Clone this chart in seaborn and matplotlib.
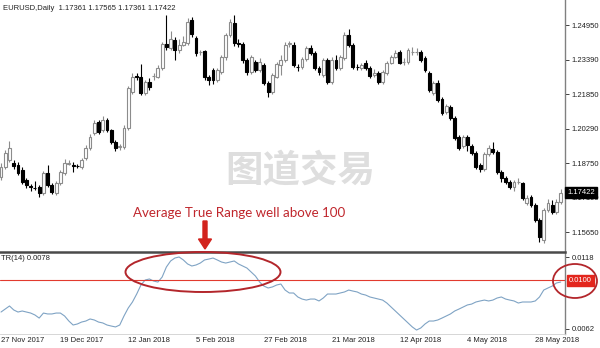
import numpy as np
import pandas as pd
import matplotlib
matplotlib.use("Agg")
import matplotlib.pyplot as plt
import seaborn as sns
from matplotlib.patches import Ellipse, FancyArrow
from matplotlib.transforms import IdentityTransform, blended_transform_factory

# ---------------- data (EURUSD daily) ----------------
open_ = [1.1812, 1.1857, 1.1889, 1.1875, 1.1866, 1.1844, 1.1799, 1.1770, 1.1765, 1.1767,
         1.1741, 1.1830, 1.1776, 1.1741, 1.1785, 1.1830, 1.1873, 1.1868, 1.1864, 1.1857,
         1.1898, 1.1943, 1.2010, 1.2059, 1.2024, 1.2068, 1.2024, 1.1970, 1.1946, 1.1948,
         1.2033, 1.2194, 1.2264, 1.2262, 1.2190, 1.2239, 1.2264, 1.2262, 1.2302, 1.2410,
         1.2392, 1.2428, 1.2383, 1.2405, 1.2414, 1.2518, 1.2437, 1.2372, 1.2378, 1.2262,
         1.2293, 1.2248, 1.2284, 1.2351, 1.2450, 1.2504, 1.2412, 1.2410, 1.2338, 1.2284,
         1.2329, 1.2293, 1.2315, 1.2235, 1.2194, 1.2262, 1.2315, 1.2338, 1.2408, 1.2405,
         1.2308, 1.2306, 1.2342, 1.2392, 1.2369, 1.2302, 1.2271, 1.2338, 1.2239, 1.2338,
         1.2302, 1.2347, 1.2450, 1.2405, 1.2308, 1.2302, 1.2324, 1.2302, 1.2271, 1.2280,
         1.2239, 1.2280, 1.2324, 1.2351, 1.2374, 1.2327, 1.2329, 1.2372, 1.2374, 1.2374,
         1.2347, 1.2280, 1.2190, 1.2235, 1.2163, 1.2104, 1.2127, 1.2077, 1.1992, 1.1952,
         1.1992, 1.1952, 1.1921, 1.1866, 1.1848, 1.1916, 1.1938, 1.1925, 1.1835, 1.1808,
         1.1790, 1.1767, 1.1788, 1.1785, 1.1696, 1.1723, 1.1687, 1.1620, 1.1530, 1.1665,
         1.1687, 1.1656, 1.1700]
high = [1.1875, 1.1935, 1.1975, 1.1890, 1.1880, 1.1858, 1.1810, 1.1780, 1.1795, 1.1775,
        1.1840, 1.1866, 1.1785, 1.1795, 1.1845, 1.1895, 1.1888, 1.1878, 1.1870, 1.1900,
        1.1955, 1.2005, 1.2068, 1.2070, 1.2085, 1.2078, 1.2030, 1.1978, 1.1960, 1.2045,
        1.2220, 1.2280, 1.2280, 1.2320, 1.2250, 1.2255, 1.2280, 1.2315, 1.2418, 1.2540,
        1.2468, 1.2440, 1.2430, 1.2445, 1.2525, 1.2530, 1.2445, 1.2385, 1.2385, 1.2270,
        1.2300, 1.2300, 1.2360, 1.2460, 1.2520, 1.2540, 1.2430, 1.2418, 1.2345, 1.2360,
        1.2338, 1.2345, 1.2325, 1.2245, 1.2280, 1.2328, 1.2360, 1.2418, 1.2425, 1.2420,
        1.2318, 1.2350, 1.2400, 1.2405, 1.2378, 1.2310, 1.2345, 1.2345, 1.2350, 1.2360,
        1.2360, 1.2465, 1.2475, 1.2412, 1.2318, 1.2325, 1.2338, 1.2310, 1.2298, 1.2288,
        1.2292, 1.2335, 1.2360, 1.2385, 1.2382, 1.2345, 1.2392, 1.2395, 1.2392, 1.2385,
        1.2355, 1.2288, 1.2245, 1.2248, 1.2170, 1.2140, 1.2135, 1.2085, 1.2000, 1.2000,
        1.2000, 1.1960, 1.1928, 1.1875, 1.1925, 1.1955, 1.1970, 1.1932, 1.1842, 1.1818,
        1.1800, 1.1798, 1.1810, 1.1792, 1.1730, 1.1730, 1.1695, 1.1628, 1.1672, 1.1712,
        1.1710, 1.1712, 1.1757]
low = [1.1798, 1.1848, 1.1880, 1.1850, 1.1820, 1.1780, 1.1765, 1.1750, 1.1755, 1.1725,
       1.1730, 1.1768, 1.1735, 1.1733, 1.1778, 1.1822, 1.1865, 1.1835, 1.1852, 1.1850,
       1.1890, 1.1935, 1.2003, 1.2005, 1.2015, 1.2015, 1.1960, 1.1930, 1.1935, 1.1940,
       1.2025, 1.2185, 1.2248, 1.2180, 1.2180, 1.2205, 1.2250, 1.2255, 1.2295, 1.2385,
       1.2385, 1.2340, 1.2370, 1.2400, 1.2405, 1.2440, 1.2355, 1.2360, 1.2250, 1.2225,
       1.2230, 1.2238, 1.2275, 1.2340, 1.2440, 1.2400, 1.2395, 1.2325, 1.2270, 1.2275,
       1.2285, 1.2285, 1.2225, 1.2170, 1.2185, 1.2255, 1.2270, 1.2330, 1.2395, 1.2305,
       1.2290, 1.2298, 1.2335, 1.2360, 1.2295, 1.2270, 1.2262, 1.2230, 1.2230, 1.2295,
       1.2295, 1.2340, 1.2398, 1.2298, 1.2295, 1.2295, 1.2295, 1.2258, 1.2262, 1.2230,
       1.2230, 1.2272, 1.2318, 1.2345, 1.2318, 1.2315, 1.2320, 1.2360, 1.2362, 1.2330,
       1.2285, 1.2195, 1.2180, 1.2150, 1.2092, 1.2095, 1.2070, 1.1980, 1.1935, 1.1945,
       1.1930, 1.1912, 1.1848, 1.1835, 1.1840, 1.1908, 1.1918, 1.1828, 1.1790, 1.1782,
       1.1760, 1.1750, 1.1780, 1.1710, 1.1688, 1.1680, 1.1610, 1.1520, 1.1515, 1.1655,
       1.1645, 1.1648, 1.1692]
close = [1.1857, 1.1921, 1.1943, 1.1862, 1.1830, 1.1790, 1.1776, 1.1767, 1.1763, 1.1741,
         1.1830, 1.1776, 1.1745, 1.1785, 1.1835, 1.1875, 1.1877, 1.1864, 1.1860, 1.1889,
         1.1943, 1.1992, 1.2055, 1.2015, 1.2068, 1.2024, 1.1970, 1.1943, 1.1950, 1.2033,
         1.2212, 1.2262, 1.2262, 1.2190, 1.2239, 1.2217, 1.2268, 1.2302, 1.2410, 1.2396,
         1.2432, 1.2383, 1.2405, 1.2419, 1.2509, 1.2455, 1.2369, 1.2376, 1.2262, 1.2248,
         1.2248, 1.2293, 1.2351, 1.2450, 1.2509, 1.2414, 1.2410, 1.2338, 1.2284, 1.2351,
         1.2293, 1.2329, 1.2235, 1.2194, 1.2271, 1.2320, 1.2338, 1.2405, 1.2412, 1.2315,
         1.2306, 1.2342, 1.2392, 1.2369, 1.2302, 1.2284, 1.2338, 1.2239, 1.2338, 1.2302,
         1.2351, 1.2450, 1.2405, 1.2306, 1.2306, 1.2315, 1.2302, 1.2266, 1.2280, 1.2239,
         1.2284, 1.2324, 1.2351, 1.2369, 1.2324, 1.2329, 1.2383, 1.2374, 1.2376, 1.2338,
         1.2293, 1.2203, 1.2235, 1.2158, 1.2100, 1.2131, 1.2077, 1.1988, 1.1943, 1.1992,
         1.1957, 1.1921, 1.1857, 1.1848, 1.1916, 1.1943, 1.1925, 1.1835, 1.1808, 1.1790,
         1.1767, 1.1790, 1.1790, 1.1718, 1.1718, 1.1687, 1.1620, 1.1543, 1.1665, 1.1696,
         1.1656, 1.1700, 1.1742]
atr14 = [0.00752, 0.00775, 0.00799, 0.00768, 0.00752, 0.00760, 0.00752, 0.00744, 0.00729, 0.00705,
         0.00744, 0.00737, 0.00737, 0.00744, 0.00744, 0.00721, 0.00682, 0.00651, 0.00659, 0.00674,
         0.00682, 0.00698, 0.00690, 0.00674, 0.00667, 0.00651, 0.00643, 0.00636, 0.00651, 0.00721,
         0.00783, 0.00830, 0.00892, 0.00962, 0.01001, 0.01009, 0.00993, 0.00985, 0.01024, 0.01102,
         0.01149, 0.01172, 0.01180, 0.01157, 0.01126, 0.01110, 0.01118, 0.01133, 0.01157, 0.01164,
         0.01172, 0.01157, 0.01141, 0.01133, 0.01141, 0.01149, 0.01126, 0.01110, 0.01094, 0.01063,
         0.01032, 0.00985, 0.00954, 0.00939, 0.00947, 0.00962, 0.00970, 0.00923, 0.00900, 0.00900,
         0.00869, 0.00853, 0.00845, 0.00853, 0.00853, 0.00838, 0.00861, 0.00892, 0.00892, 0.00892,
         0.00900, 0.00908, 0.00923, 0.00915, 0.00908, 0.00892, 0.00884, 0.00869, 0.00861, 0.00853,
         0.00845, 0.00822, 0.00791, 0.00760, 0.00729, 0.00698, 0.00667, 0.00636, 0.00612, 0.00628,
         0.00659, 0.00682, 0.00682, 0.00690, 0.00705, 0.00721, 0.00737, 0.00760, 0.00775, 0.00791,
         0.00807, 0.00814, 0.00830, 0.00838, 0.00845, 0.00838, 0.00845, 0.00861, 0.00869, 0.00853,
         0.00845, 0.00838, 0.00822, 0.00830, 0.00830, 0.00830, 0.00838, 0.00869, 0.00923, 0.00939,
         0.00954, 0.00978, 0.00985]
price_ticks = [1.24950, 1.23390, 1.21850, 1.20290, 1.18750, 1.17190, 1.15650]
atr_ticks = [0.0118, 0.0062]
atr_level = 0.0100
last_price = 1.17422
date_labels = ["27 Nov 2017", "19 Dec 2017", "12 Jan 2018", "5 Feb 2018", "27 Feb 2018",
               "21 Mar 2018", "12 Apr 2018", "4 May 2018", "28 May 2018"]
date_bars = [-2, 14, 30, 46, 62, 78, 94, 110, 126]

# ---------------- figure ----------------
sns.set_style("white")
plt.rcParams["font.family"] = ["Liberation Sans", "DejaVu Sans", "Noto Sans CJK SC"]

W, H = 600, 348
fig = plt.figure(figsize=(W / 100, H / 100), dpi=100)
fig.patch.set_facecolor("white")

def fx(x):
    return x / W

def fy(y):
    return 1 - y / H

ax = fig.add_axes([0, fy(251), fx(565), 251 / H])
ax2 = fig.add_axes([0, fy(334), fx(565), (334 - 252) / H])

o = np.array(open_)
h = np.array(high)
l = np.array(low)
c = np.array(close)
idx = np.arange(len(c))
up = c >= o
dn = ~up

bull_col = "#8c8c8c"
ax.vlines(idx[up], l[up], h[up], color=bull_col, lw=0.8, zorder=2)
ax.vlines(idx[dn], l[dn], h[dn], color="black", lw=0.8, zorder=2)
body = np.maximum(np.abs(c - o), 0.00003)
ax.bar(idx[up], body[up], bottom=np.minimum(o, c)[up], width=0.68,
       color="white", edgecolor=bull_col, lw=0.8, zorder=3)
ax.bar(idx[dn], body[dn], bottom=np.minimum(o, c)[dn], width=0.68,
       color="black", edgecolor="black", lw=0.8, zorder=3)

xl = (-0.24, -0.24 + 565 / 4.24)
ax.set_xlim(*xl)
ax.set_ylim(1.26073 - 251 * 0.000449, 1.26073)

df = pd.DataFrame({"bar": idx, "atr": atr14})
sns.lineplot(data=df, x="bar", y="atr", ax=ax2, color="#7fa3c4", lw=0.8)
ax2.axhline(atr_level, color="#e23a2e", lw=0.8)
ax2.set_xlim(*xl)
ax2.set_ylim(0.0118 - 77 / 12857, 0.0118 + 5 / 12857)
ax2.set_xlabel("")
ax2.set_ylabel("")

SMALL = 5.5
for a in (ax, ax2):
    a.set_xticks([])
    a.yaxis.tick_right()
    a.tick_params(axis="y", length=3, width=0.6, pad=2, labelsize=SMALL,
                  colors="#222222", direction="out")
    for s in ("left", "top", "bottom"):
        a.spines[s].set_visible(False)
    a.spines["right"].set_color("#808080")
    a.spines["right"].set_linewidth(1.0)
    a.set_facecolor("white")

ax.set_yticks(price_ticks)
ax.set_yticklabels([f"{v:.5f}" for v in price_ticks])
ax2.set_yticks(atr_ticks)
ax2.set_yticklabels([f"{v:.4f}" for v in atr_ticks])
ax2.spines["top"].set_visible(True)
ax2.spines["top"].set_color("#4a4a4a")
ax2.spines["top"].set_linewidth(1.8)
ax2.spines["bottom"].set_visible(True)
ax2.spines["bottom"].set_color("#d0d0d0")
ax2.spines["bottom"].set_linewidth(0.6)

# date labels (the first one starts at the left edge of the figure)
tr = blended_transform_factory(ax2.transData, fig.transFigure)
x_min_bar = xl[0] + 1 / 4.24
for b, lab in zip(date_bars, date_labels):
    ax2.text(max(b, x_min_bar), fy(341), lab, transform=tr, ha="left", va="center",
             fontsize=SMALL, color="#222222", clip_on=False)

# price / level boxes
trp = blended_transform_factory(fig.transFigure, ax.transData)
ax.text(fx(567), last_price, f"{last_price:.5f}", transform=trp, ha="left", va="center",
        fontsize=SMALL, color="white", clip_on=False, zorder=10,
        bbox=dict(boxstyle="square,pad=0.25", fc="black", ec="black"))
tra = blended_transform_factory(fig.transFigure, ax2.transData)
ax2.text(fx(569), atr_level, f"{atr_level:.4f}", transform=tra, ha="left", va="center",
         fontsize=SMALL, color="white", clip_on=False, zorder=10,
         bbox=dict(boxstyle="square,pad=0.25", fc="#e3261d", ec="#e3261d"))

# header texts
fig.text(fx(3), fy(8), "EURUSD,Daily  1.17361 1.17565 1.17361 1.17422",
         ha="left", va="center", fontsize=SMALL, color="#222222")
fig.text(fx(1), fy(258), "TR(14) 0.0078", ha="left", va="center",
         fontsize=SMALL, color="#222222")

# watermark
fig.text(fx(300), fy(171), "图道交易", ha="center", va="center", fontsize=27,
         fontweight="bold", color="#dedede", family=["Noto Sans CJK SC"], zorder=0)

# annotation
fig.text(fx(133), fy(213), "Average True Range well above 100", ha="left",
         va="center", fontsize=9.6, color="#c0272d", family=["Lato", "DejaVu Sans"])
fig.add_artist(FancyArrow(205, H - 221, 0, -(249 - 221), width=4, head_width=13,
                          head_length=10, length_includes_head=True,
                          color="#d2231d", transform=IdentityTransform()))
fig.add_artist(Ellipse((203, H - 272), 155, 40, fill=False, ec="#b3262b", lw=1.4,
                       transform=IdentityTransform()))
fig.add_artist(Ellipse((575, H - 281), 44, 34, fill=False, ec="#b3262b", lw=1.3,
                       transform=IdentityTransform()))

fig.savefig("out.png", dpi=100, facecolor="white")
